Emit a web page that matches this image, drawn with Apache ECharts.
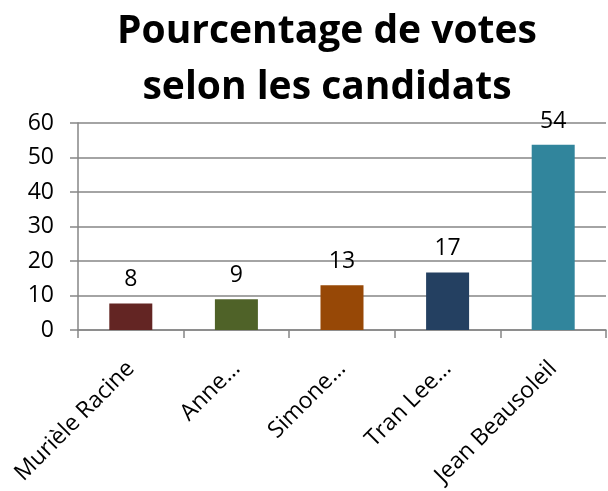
<!DOCTYPE html>
<html>
<head>
<meta charset="utf-8">
<script src="https://cdn.jsdelivr.net/npm/echarts@6/dist/echarts.min.js"></script>
<style>
  html, body { margin: 0; padding: 0; background: #fff; }
  #chart { width: 608px; height: 491px; }
</style>
</head>
<body>
<div id="chart"></div>
<script>
// données
const candidats = ['Murièle Racine', 'Anne…', 'Simone…', 'Tran Lee…', 'Jean Beausoleil'];
const votes = [7.7, 8.9, 13.0, 16.7, 53.7];
const couleurs = ['#632523', '#4f6228', '#974806', '#244061', '#31859c'];

const myChart = echarts.init(document.getElementById('chart'));
const police = '"Open Sans", sans-serif';

const option = {
  backgroundColor: '#fff',
  title: {
    text: 'Pourcentage de votes\nselon les candidats',
    left: 322,
    textAlign: 'center',
    top: -1,
    textStyle: {
      fontFamily: police,
      fontWeight: 'bold',
      fontSize: 39,
      lineHeight: 56,
      color: '#000'
    }
  },
  grid: { left: 78, right: 2, top: 123, bottom: 161, outerBoundsMode: 'none', containLabel: false },
  xAxis: {
    type: 'category',
    data: candidats,
    axisLine: { lineStyle: { color: '#868686', width: 1.5 } },
    axisTick: { show: true, length: 8, lineStyle: { color: '#868686', width: 1.5 } },
    axisLabel: {
      interval: 0,
      rotate: 45,
      margin: 35,
      fontFamily: police,
      fontSize: 23,
      color: '#000'
    }
  },
  yAxis: {
    type: 'value',
    min: 0,
    max: 60,
    interval: 10,
    axisLine: { show: true, lineStyle: { color: '#868686', width: 1.5 } },
    axisTick: { show: true, length: 8, lineStyle: { color: '#868686', width: 1.5 } },
    splitLine: { show: true, lineStyle: { color: '#868686', width: 1.5 } },
    axisLabel: {
      margin: 24,
      fontFamily: police,
      fontSize: 23,
      color: '#000'
    }
  },
  series: [{
    type: 'bar',
    barWidth: 43,
    data: votes.map((v, i) => ({ value: v, itemStyle: { color: couleurs[i] } })),
    label: {
      show: true,
      position: 'top',
      distance: 12,
      fontFamily: police,
      fontSize: 23,
      color: '#000',
      formatter: p => Math.round(p.value)
    }
  }]
};

option && myChart.setOption(option);
</script>
</body>
</html>
